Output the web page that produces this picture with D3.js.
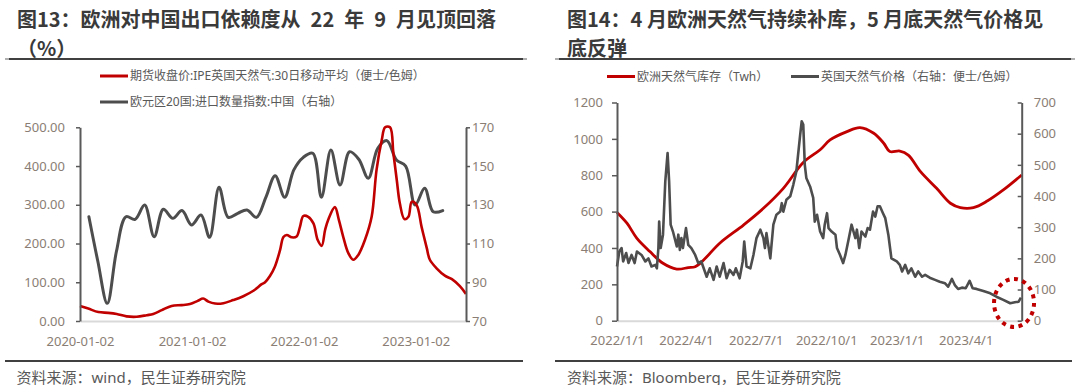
<!DOCTYPE html>
<html><head><meta charset="utf-8">
<script src="https://cdn.jsdelivr.net/npm/d3@7"></script>
<style>
body{margin:0;background:#fff}
svg{display:block}
text{font-family:"Noto Sans","Noto Sans CJK SC",sans-serif}
.ttl{font-family:"Noto Sans CJK SC","Noto Sans",sans-serif;font-weight:700}
</style>
</head><body>
<svg id="c" width="1080" height="385"></svg>
<script>
// ---------------- DATA ----------------
const leftTitle = ["图13：欧洲对中国出口依赖度从\u200222\u2002年\u20029\u2002月见顶回落", "（%）"];
const rightTitle = ["图14：4 月欧洲天然气持续补库，5 月底天然气价格见", "底反弹"];
const leftLegend = ["期货收盘价:IPE英国天然气:30日移动平均（便士/色姆）", "欧元区20国:进口数量指数:中国（右轴）"];
const rightLegend = ["欧洲天然气库存（Twh）", "英国天然气价格（右轴：便士/色姆）"];
const leftSource = "资料来源：wind，民生证券研究院";
const rightSource = "资料来源：Bloomberg，民生证券研究院";

// Left chart: IPE UK gas 30d MA (left axis)
const ipeDates = ["2020-01-02","2020-01-29","2020-03-02","2020-04-03","2020-05-01","2020-06-02","2020-07-05","2020-08-07","2020-08-28","2020-09-25",
  "2020-10-27","2020-11-29","2020-12-26","2021-01-20","2021-02-07","2021-02-24","2021-03-18","2021-04-14","2021-05-16","2021-06-18",
  "2021-07-21","2021-08-17","2021-08-28","2021-09-13","2021-09-29","2021-10-16","2021-10-27","2021-11-07","2021-11-23","2021-12-09",
  "2021-12-20","2021-12-31","2022-01-16","2022-02-02","2022-02-16","2022-03-01","2022-03-12","2022-03-22","2022-04-13","2022-04-26",
  "2022-05-10","2022-05-27","2022-06-12","2022-06-28","2022-07-20","2022-08-11","2022-08-27","2022-09-13","2022-09-24","2022-10-10",
  "2022-10-21","2022-11-01","2022-11-11","2022-11-26","2022-12-09","2022-12-20","2023-01-05","2023-01-21","2023-02-07","2023-02-17",
  "2023-03-11","2023-04-07","2023-04-30","2023-05-26","2023-06-15"];
const ipeValues = [39,32,23,21,18,12,11,15,18,28,
  39,41,44,52,58,50,45,46,54,64,
  78,95,100,116,140,183,217,222,216,218,
  243,271,269,252,209,194,235,261,294,261,
  218,175,158,170,209,269,390,467,500,500,
  433,364,304,263,269,308,299,243,188,158,
  136,117,108,90,70];

// Left chart: Euro area 20 import volume index: China (right axis), monthly
const importMonths = ["2020-01","2020-02","2020-03","2020-04","2020-05","2020-06","2020-07","2020-08","2020-09","2020-10","2020-11","2020-12",
  "2021-01","2021-02","2021-03","2021-04","2021-05","2021-06","2021-07","2021-08","2021-09","2021-10","2021-11","2021-12",
  "2022-01","2022-02","2022-03","2022-04","2022-05","2022-06","2022-07","2022-08","2022-09","2022-10","2022-11","2022-12",
  "2023-01","2023-02","2023-03"];
const importValues = [123.8,101,79.1,106,123.8,122.5,129.9,113.5,127.7,123,127,119.6,
  124.7,113.2,139,123.5,125.6,127.3,123.5,134,145,133.9,148,154.5,
  156.6,133.9,158.3,140.2,157.4,153.5,143.7,159.1,163.1,153.1,150,129.9,
  138.5,126.4,127];

const leftYTicks = [0,100,200,300,400,500];
const leftY2Ticks = [70,90,110,130,150,170];
const leftXTicks = ["2020-01-02","2021-01-02","2022-01-02","2023-01-02"];

// Right chart: EU gas storage (TWh, left axis)
const storageDates = ["2022-01-01","2022-01-14","2022-01-27","2022-02-13","2022-03-02","2022-03-20","2022-04-04","2022-04-13","2022-04-24","2022-05-15",
  "2022-06-15","2022-07-11","2022-08-06","2022-09-01","2022-09-23","2022-10-06","2022-10-28","2022-11-14","2022-12-02","2022-12-15",
  "2022-12-23","2023-01-05","2023-01-16","2023-02-01","2023-02-22","2023-03-12","2023-03-25","2023-04-11","2023-04-29","2023-05-20","2023-06-13"];
const storageValues = [595,536,453,380,316,284,292,297,334,426,
  526,618,728,870,940,994,1040,1062,1031,976,
  930,933,911,820,728,646,622,622,658,719,801];

// Right chart: UK gas price (pence/therm, right axis)
const ukPrice = [
 ["2022-01-01",174],["2022-01-04",222],["2022-01-07",233],["2022-01-09",190],["2022-01-13",217],["2022-01-16",185],["2022-01-20",211],["2022-01-24",185],["2022-01-27",222],
 ["2022-02-02",211],["2022-02-07",190],["2022-02-11",200],["2022-02-15",174],["2022-02-20",179],["2022-02-22",168],["2022-02-24",233],["2022-02-25",318],["2022-02-27",233],
 ["2022-03-02",276],["2022-03-05",447],["2022-03-08",538],["2022-03-10",447],["2022-03-12",308],["2022-03-15",286],["2022-03-20",238],["2022-03-22",276],["2022-03-24",227],["2022-03-26",265],["2022-03-28",233],
 ["2022-04-01",297],["2022-04-04",243],["2022-04-08",233],["2022-04-13",211],["2022-04-17",185],["2022-04-21",190],["2022-04-28",141],
 ["2022-05-02",168],["2022-05-07",131],["2022-05-11",174],["2022-05-15",141],["2022-05-20",185],["2022-05-24",136],["2022-05-28",163],
 ["2022-06-02",147],["2022-06-05",168],["2022-06-10",136],["2022-06-14",190],["2022-06-16",254],["2022-06-19",174],["2022-06-24",168],["2022-06-28",211],
 ["2022-07-02",265],["2022-07-07",292],["2022-07-11",265],["2022-07-13",233],["2022-07-15",281],["2022-07-20",200],["2022-07-24",308],["2022-07-28",340],
 ["2022-08-02",350],["2022-08-04",377],["2022-08-06",350],["2022-08-10",388],["2022-08-15",399],["2022-08-19",436],["2022-08-23",479],["2022-08-28",597],["2022-08-30",640],
 ["2022-09-01",629],["2022-09-03",500],["2022-09-05",458],["2022-09-10",430],["2022-09-14",394],["2022-09-16",318],["2022-09-19",340],["2022-09-23",286],["2022-09-27",265],["2022-09-29",308],
 ["2022-10-02",345],["2022-10-04",297],["2022-10-08",286],["2022-10-13",276],["2022-10-15",233],["2022-10-19",211],["2022-10-23",185],["2022-10-26",211],["2022-10-30",259],
 ["2022-11-03",308],["2022-11-08",265],["2022-11-10",292],["2022-11-13",233],["2022-11-16",286],["2022-11-21",270],["2022-11-24",297],["2022-11-27",292],
 ["2022-12-01",350],["2022-12-04",334],["2022-12-07",367],["2022-12-10",367],["2022-12-14",345],["2022-12-17",329],["2022-12-21",276],["2022-12-25",200],
 ["2023-01-01",190],["2023-01-05",179],["2023-01-08",158],["2023-01-12",179],["2023-01-16",152],["2023-01-20",168],["2023-01-25",141],["2023-01-29",158],
 ["2023-02-03",141],["2023-02-07",147],["2023-02-13",138],["2023-02-20",131],["2023-02-26",125],
 ["2023-03-05",120],["2023-03-09",109],["2023-03-14",134],["2023-03-18",113],["2023-03-22",102],["2023-03-27",106],
 ["2023-04-01",104],["2023-04-06",128],["2023-04-10",104],["2023-04-15",102],["2023-04-24",95],
 ["2023-05-03",88],["2023-05-11",77],["2023-05-20",67],["2023-05-29",56],["2023-06-04",59],["2023-06-09",61],["2023-06-12",74]
];

const rightYTicks = [0,200,400,600,800,1000,1200];
const rightY2Ticks = [0,100,200,300,400,500,600,700];
const rightXTicks = ["2022-01-01","2022-04-01","2022-07-01","2022-10-01","2023-01-01","2023-04-01"];
const highlight = {date:"2023-06-03", value:57};

// ---------------- DRAW ----------------
const RED = "#c00000", GRAY = "#4d4d4d", AX = "#595959", LBL = "#8a7e74", TXT = "#595959";
const parse = d3.timeParse("%Y-%m-%d");
const parseM = d3.timeParse("%Y-%m");
const svg = d3.select("#c");

function titleBlock(x, lines, r0, r1){
  const g = svg.append("g");
  lines.forEach((s,i)=>g.append("text").attr("class","ttl").attr("font-size",20).attr("fill","#3a3a3a")
    .attr("x",x).attr("y",27+i*29).text(s));
  g.append("line").attr("x1",r0).attr("x2",r1).attr("y1",59).attr("y2",59).attr("stroke","#404040").attr("stroke-width",2);
  g.append("line").attr("x1",r0).attr("x2",r0+4).attr("y1",59).attr("y2",59).attr("stroke","#b0b0b0").attr("stroke-width",2);
  g.append("line").attr("x1",r1-4).attr("x2",r1).attr("y1",59).attr("y2",59).attr("stroke","#b0b0b0").attr("stroke-width",2);
}
function sourceBlock(x, text, r0, r1){
  svg.append("line").attr("x1",r0).attr("x2",r1).attr("y1",361).attr("y2",361).attr("stroke","#404040").attr("stroke-width",2);
  svg.append("text").attr("x",x).attr("y",382.5).attr("font-size",15).attr("fill",TXT).text(text);
}
function legendItem(x, y, color, text){
  svg.append("line").attr("x1",x).attr("x2",x+28).attr("y1",y).attr("y2",y).attr("stroke",color).attr("stroke-width",3);
  svg.append("text").attr("x",x+30).attr("y",y+4.2).attr("font-size",12).attr("fill",TXT).text(text);
}
function styleAxis(g){
  g.select(".domain").attr("stroke",AX).attr("stroke-width",2);
  g.selectAll(".tick line").attr("stroke",AX).attr("stroke-width",1.5);
  g.selectAll(".tick text").attr("fill",LBL).attr("font-size",13).attr("font-family",'"Noto Sans",sans-serif');
}

// ===== LEFT CHART =====
titleBlock(17, leftTitle, 5, 527);
legendItem(100, 76, RED, leftLegend[0]);
legendItem(100, 102, GRAY, leftLegend[1]);

const xL = d3.scaleTime().domain([parse("2020-01-02"), parse("2023-06-15")]).range([80,466]);
const yL = d3.scaleLinear().domain([0,500]).range([321,127.3]);
const yL2 = d3.scaleLinear().domain([70,170]).range([321,127.3]);

const gxL = svg.append("g").attr("transform","translate(0,321)")
  .call(d3.axisBottom(xL).tickValues(leftXTicks.map(parse)).tickSize(0).tickPadding(16).tickFormat(d3.timeFormat("%Y-%m-%d")));
styleAxis(gxL);
gxL.select(".domain").attr("stroke","#d9d9d9").attr("stroke-width",2);

const importData = importMonths.map((m,i)=>({date:d3.timeDay.offset(d3.timeMonth.offset(parseM(m),1),-1), v:importValues[i]}));
const ipeData = ipeDates.map((d,i)=>({date:parse(d), v:ipeValues[i]}));

svg.append("path").datum(importData).attr("fill","none").attr("stroke",GRAY).attr("stroke-width",3)
  .attr("stroke-linejoin","round").attr("stroke-linecap","round")
  .attr("d", d3.line().x(d=>xL(d.date)).y(d=>yL2(d.v)).curve(d3.curveCatmullRom.alpha(0.5)));
svg.append("path").datum(ipeData).attr("fill","none").attr("stroke",RED).attr("stroke-width",2.6)
  .attr("stroke-linejoin","round")
  .attr("d", d3.line().x(d=>xL(d.date)).y(d=>yL(d.v)).curve(d3.curveCatmullRom.alpha(0.5)));

const gyL = svg.append("g").attr("transform","translate(80,0)")
  .call(d3.axisLeft(yL).tickValues(leftYTicks).tickSize(4).tickSizeOuter(0).tickPadding(11).tickFormat(d3.format(".2f")));
styleAxis(gyL);
const gyL2 = svg.append("g").attr("transform","translate(466,0)")
  .call(d3.axisRight(yL2).tickValues(leftY2Ticks).tickSize(4).tickSizeOuter(0).tickPadding(2));
styleAxis(gyL2);

sourceBlock(16.5, leftSource, 5, 523);

// ===== RIGHT CHART =====
titleBlock(567, rightTitle, 555, 1075);
legendItem(607, 76.5, RED, rightLegend[0]);
legendItem(791, 76.5, GRAY, rightLegend[1]);

const xR = d3.scaleTime().domain([parse("2022-01-01"), parse("2023-06-13")]).range([617,1021.7]);
const yR = d3.scaleLinear().domain([0,1200]).range([320.7,102.5]);
const yR2 = d3.scaleLinear().domain([0,700]).range([320.7,102.5]);

const fmtR = d => `${d.getFullYear()}/${d.getMonth()+1}/${d.getDate()}`;
const gxR = svg.append("g").attr("transform","translate(0,320.7)")
  .call(d3.axisBottom(xR).tickValues(rightXTicks.map(parse)).tickSize(0).tickPadding(15).tickFormat(fmtR));
styleAxis(gxR);
gxR.select(".domain").attr("stroke","#d9d9d9").attr("stroke-width",2);

const storageData = storageDates.map((d,i)=>({date:parse(d), v:storageValues[i]}));
const priceData = ukPrice.map(([d,v])=>({date:parse(d), v}));

svg.append("path").datum(storageData).attr("fill","none").attr("stroke",RED).attr("stroke-width",2.8)
  .attr("d", d3.line().x(d=>xR(d.date)).y(d=>yR(d.v)).curve(d3.curveCatmullRom.alpha(0.5)));
svg.append("path").datum(priceData).attr("fill","none").attr("stroke",GRAY).attr("stroke-width",2.6)
  .attr("stroke-linejoin","round")
  .attr("d", d3.line().x(d=>xR(d.date)).y(d=>yR2(d.v)));

const gyR = svg.append("g").attr("transform","translate(617,0)")
  .call(d3.axisLeft(yR).tickValues(rightYTicks).tickSize(5).tickSizeOuter(0).tickPadding(9).tickFormat(d3.format("d")));
styleAxis(gyR);
const gyR2 = svg.append("g").attr("transform","translate(1021.7,0)")
  .call(d3.axisRight(yR2).tickValues(rightY2Ticks).tickSize(-4).tickSizeOuter(0).tickPadding(12).tickFormat(d3.format("d")));
styleAxis(gyR2);

// highlight dotted ellipse
svg.append("ellipse").attr("cx", xR(parse(highlight.date))).attr("cy", yR2(highlight.value))
  .attr("rx",20).attr("ry",24).attr("fill","none").attr("stroke",RED).attr("stroke-width",4)
  .attr("stroke-dasharray","4 4.6");

sourceBlock(567, rightSource, 555, 1072);
</script>
</body></html>
